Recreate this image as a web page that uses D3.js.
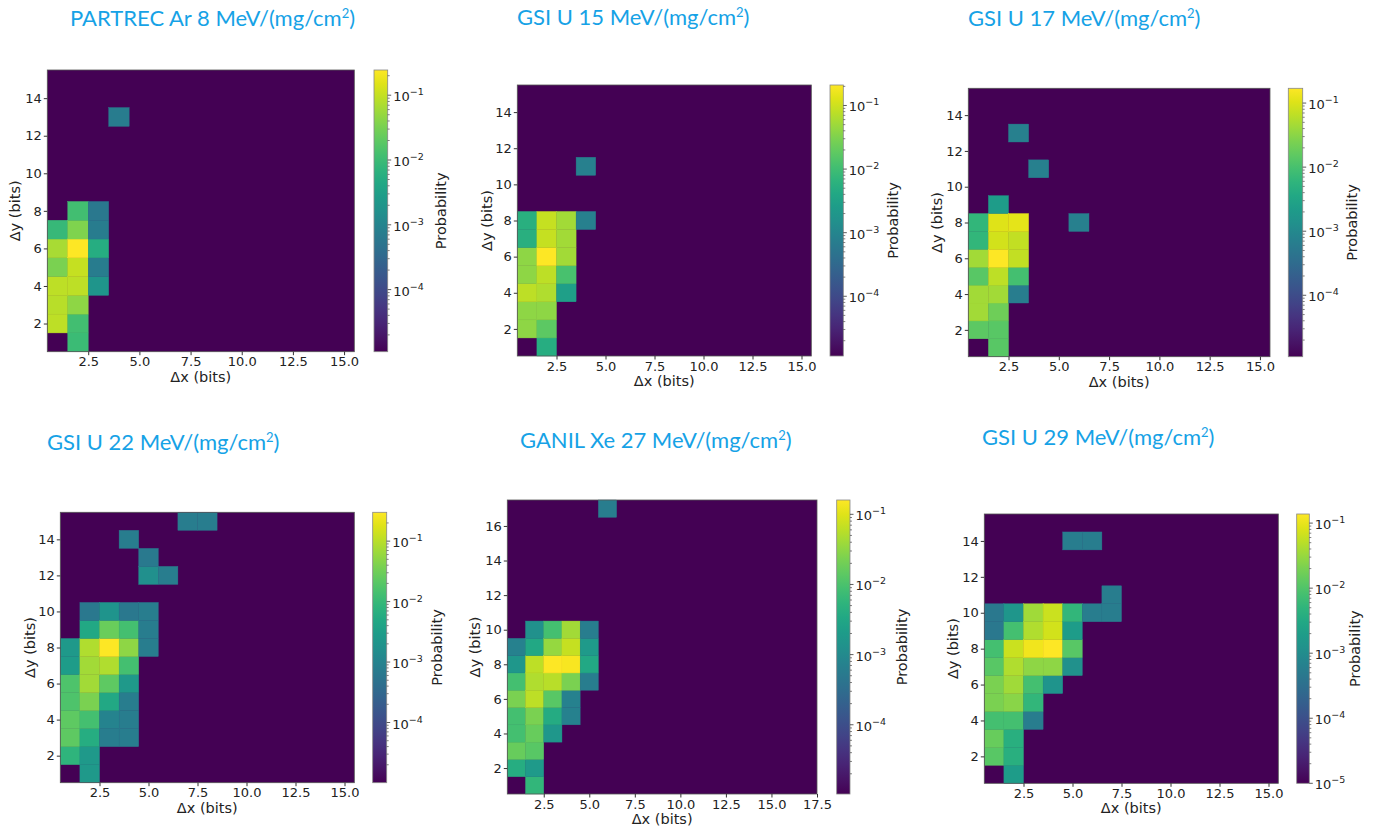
<!DOCTYPE html>
<html>
<head>
<meta charset="utf-8">
<script src="https://cdn.jsdelivr.net/npm/d3@7"></script>
<style>
  body { margin: 0; background: #fff; }
  text { font-family: "DejaVu Sans", sans-serif; fill: #222; }
  .title { font-family: Lato, "Open Sans", sans-serif; fill: #16a2e6; }
</style>
</head>
<body>
<div class="vis"></div>
<script>

//******************//
//   CHART DATA     //
//******************//

var titles = [
  "PARTREC Ar 8 MeV/(mg/cm",
  "GSI U 15 MeV/(mg/cm",
  "GSI U 17 MeV/(mg/cm",
  "GSI U 22 MeV/(mg/cm",
  "GANIL Xe 27 MeV/(mg/cm",
  "GSI U 29 MeV/(mg/cm"
];

// number of bins along each axis
var gridSize = [15, 15, 15, 15, 17, 15];

// colour limits of each panel (log scale)
var vmins = [1.1e-5, 1.15e-5, 1.1e-5, 1.01e-5, 1.03e-5, 1.0e-5];
var vmaxs = [0.245, 0.21, 0.17, 0.30, 0.16, 0.138];

var xTicks15 = [2.5, 5.0, 7.5, 10.0, 12.5, 15.0];
var xTicks17 = [2.5, 5.0, 7.5, 10.0, 12.5, 15.0, 17.5];
var yTicks15 = [2, 4, 6, 8, 10, 12, 14];
var yTicks17 = [2, 4, 6, 8, 10, 12, 14, 16];

// [dx, dy, probability], empty bins are zero
var cellsAr8 = [
  [1,2,0.09],[1,3,0.085],[1,4,0.09],[1,5,0.033],[1,6,0.066],[1,7,0.009],
  [2,1,0.010],[2,2,0.012],[2,3,0.045],[2,4,0.09],[2,5,0.10],[2,6,0.245],[2,7,0.035],[2,8,0.012],
  [3,4,0.002],[3,5,0.0007],[3,6,0.0055],[3,7,0.0007],[3,8,0.0006],
  [4,13,0.0007]
];

var cellsU15 = [
  [1,2,0.04],[1,3,0.04],[1,4,0.08],[1,5,0.04],[1,6,0.04],[1,7,0.0056],[1,8,0.0056],
  [2,1,0.0051],[2,2,0.018],[2,3,0.04],[2,4,0.065],[2,5,0.08],[2,6,0.21],[2,7,0.089],[2,8,0.089],
  [3,4,0.0028],[3,5,0.012],[3,6,0.053],[3,7,0.053],[3,8,0.053],
  [4,8,0.0008],[4,11,0.0008]
];

var cellsU17 = [
  [1,2,0.015],[1,3,0.044],[1,4,0.044],[1,5,0.014],[1,6,0.044],[1,7,0.0064],[1,8,0.0064],
  [2,1,0.014],[2,2,0.014],[2,3,0.020],[2,4,0.044],[2,5,0.065],[2,6,0.17],[2,7,0.087],[2,8,0.105],[2,9,0.0022],
  [3,4,0.00063],[3,5,0.0094],[3,6,0.071],[3,7,0.071],[3,8,0.115],[3,13,0.0007],
  [4,11,0.0007],[6,8,0.0007]
];

var cellsU22 = [
  [1,2,0.0081],[1,3,0.023],[1,4,0.023],[1,5,0.017],[1,6,0.017],[1,7,0.0029],[1,8,0.0026],
  [2,1,0.0026],[2,2,0.0026],[2,3,0.006],[2,4,0.014],[2,5,0.038],[2,6,0.071],[2,7,0.071],[2,8,0.087],[2,9,0.0049],[2,10,0.00062],
  [3,3,0.00075],[3,4,0.001],[3,5,0.0049],[3,6,0.023],[3,7,0.087],[3,8,0.30],[3,9,0.028],[3,10,0.0021],
  [4,3,0.00075],[4,4,0.00075],[4,5,0.00075],[4,6,0.0026],[4,7,0.014],[4,8,0.052],[4,9,0.014],[4,10,0.00062],[4,14,0.00075],
  [5,8,0.00075],[5,9,0.00075],[5,10,0.00075],[5,12,0.0017],[5,13,0.00065],
  [6,12,0.00075],[7,15,0.00075],[8,15,0.00075]
];

var cellsXe27 = [
  [1,2,0.0041],[1,3,0.017],[1,4,0.0089],[1,5,0.0089],[1,6,0.023],[1,7,0.0089],[1,8,0.0017],[1,9,0.0007],
  [2,1,0.006],[2,2,0.0019],[2,3,0.013],[2,4,0.017],[2,5,0.023],[2,6,0.062],[2,7,0.050],[2,8,0.062],[2,9,0.0034],[2,10,0.0013],
  [3,4,0.0017],[3,5,0.0037],[3,6,0.013],[3,7,0.056],[3,8,0.16],[3,9,0.035],[3,10,0.0089],
  [4,5,0.0007],[4,6,0.0007],[4,7,0.023],[4,8,0.148],[4,9,0.068],[4,10,0.042],
  [5,7,0.0006],[5,8,0.0034],[5,9,0.0019],[5,10,0.0006],
  [6,17,0.0006]
];

var cellsU29 = [
  [1,2,0.0115],[1,3,0.015],[1,4,0.0079],[1,5,0.020],[1,6,0.020],[1,7,0.0115],[1,8,0.0079],[1,9,0.00045],[1,10,0.00045],
  [2,1,0.0019],[2,2,0.0041],[2,3,0.0041],[2,4,0.0079],[2,5,0.025],[2,6,0.036],[2,7,0.044],[2,8,0.064],[2,9,0.0079],[2,10,0.0015],
  [3,4,0.00055],[3,5,0.0054],[3,6,0.0079],[3,7,0.027],[3,8,0.114],[3,9,0.044],[3,10,0.036],
  [4,6,0.0014],[4,7,0.027],[4,8,0.138],[4,9,0.071],[4,10,0.064],
  [5,7,0.0012],[5,8,0.0115],[5,9,0.0019],[5,10,0.0054],
  [5,14,0.00055],[6,14,0.00055],[6,10,0.00055],[7,10,0.00055],[7,11,0.00055]
];

var panelCells = [cellsAr8, cellsU15, cellsU17, cellsU22, cellsXe27, cellsU29];


//******************//
//   PAGE LAYOUT    //
//******************//

var svg = d3.select(".vis").append("svg")
  .attr("width", 1377)
  .attr("height", 831);

// plot box [left, top, right, bottom], colourbar x-range, label positions
var layout = [
  {plot: [47.3, 70, 354.3, 351.7],   cbar: [374, 387.7],     ylab: 15,    prob: 441,    title: [70, 18]},
  {plot: [517.3, 85, 811.3, 356],    cbar: [830, 843.3],     ylab: 486.7, prob: 893,    title: [517, 17]},
  {plot: [968.3, 88.3, 1270, 356.7], cbar: [1288.3, 1302.7], ylab: 936.7, prob: 1351.7, title: [968, 18]},
  {plot: [60.3, 512.3, 354.3, 782.7], cbar: [372.7, 386.7],  ylab: 30,    prob: 437.3,  title: [47, 442]},
  {plot: [507.3, 500, 817, 794],     cbar: [836.7, 850],     ylab: 475,   prob: 901.7,  title: [520, 440]},
  {plot: [984.3, 514, 1278.3, 783.3], cbar: [1296.7, 1309.3], ylab: 953.3, prob: 1355,  title: [982, 437]}
];

var defs = svg.append("defs");

var drawPanel = function(i) {
  var L = layout[i], n = gridSize[i];
  var g = svg.append("g").attr("class", "panel");

  var x = d3.scaleLinear().domain([0.5, n + 0.5]).range([L.plot[0], L.plot[2]]);
  var y = d3.scaleLinear().domain([0.5, n + 0.5]).range([L.plot[3], L.plot[1]]);
  var color = d3.scaleSequentialLog(d3.interpolateViridis)
    .domain([vmins[i], vmaxs[i]])
    .clamp(true);

  // title
  var t = g.append("text")
    .attr("class", "title")
    .attr("x", L.title[0])
    .attr("y", L.title[1] + 8)
    .style("font-size", "22px")
    .text(titles[i]);
  t.append("tspan").attr("dy", -8).style("font-size", "13px").text("2");
  t.append("tspan").attr("dy", 8).text(")");

  // background = empty bins
  g.append("rect")
    .attr("x", L.plot[0]).attr("y", L.plot[1])
    .attr("width", L.plot[2] - L.plot[0])
    .attr("height", L.plot[3] - L.plot[1])
    .attr("fill", color(vmins[i]));

  g.selectAll("rect.cell")
    .data(panelCells[i])
    .join("rect")
    .attr("class", "cell")
    .attr("x", function(d) { return x(d[0] - 0.5); })
    .attr("y", function(d) { return y(d[1] + 0.5); })
    .attr("width", function(d) { return x(d[0] + 0.5) - x(d[0] - 0.5); })
    .attr("height", function(d) { return y(d[1] - 0.5) - y(d[1] + 0.5); })
    .attr("fill", function(d) { return color(d[2]); })
    .attr("stroke", function(d) { return color(d[2]); })
    .attr("stroke-width", 0.4);

  // frame
  g.append("rect")
    .attr("x", L.plot[0]).attr("y", L.plot[1])
    .attr("width", L.plot[2] - L.plot[0])
    .attr("height", L.plot[3] - L.plot[1])
    .attr("fill", "none")
    .attr("stroke", "#555")
    .attr("stroke-width", 0.8);

  // axes
  var xAxis = d3.axisBottom(x)
    .tickValues(n === 17 ? xTicks17 : xTicks15)
    .tickFormat(d3.format(".1f"))
    .tickSize(3.5).tickPadding(2);
  var yAxis = d3.axisLeft(y)
    .tickValues(n === 17 ? yTicks17 : yTicks15)
    .tickSize(3.5).tickPadding(2);

  var gx = g.append("g").attr("transform", "translate(0," + L.plot[3] + ")").call(xAxis);
  var gy = g.append("g").attr("transform", "translate(" + L.plot[0] + ",0)").call(yAxis);
  [gx, gy].forEach(function(a) {
    a.select(".domain").remove();
    a.selectAll("text").style("font-size", "13px").style("fill", "#222");
    a.selectAll("line").attr("stroke", "#333");
  });

  g.append("text")
    .attr("x", (L.plot[0] + L.plot[2]) / 2)
    .attr("y", L.plot[3] + 25)
    .attr("dy", "0.35em")
    .attr("text-anchor", "middle")
    .style("font-size", "14.5px")
    .text("\u0394x (bits)");

  g.append("text")
    .attr("transform", "translate(" + L.ylab + "," + (L.plot[1] + L.plot[3]) / 2 + ") rotate(-90)")
    .attr("dy", "0.35em")
    .attr("text-anchor", "middle")
    .style("font-size", "14.5px")
    .text("\u0394y (bits)");

  // colourbar
  var grad = defs.append("linearGradient")
    .attr("id", "cb" + i)
    .attr("x1", 0).attr("y1", 1).attr("x2", 0).attr("y2", 0);
  d3.range(0, 1.0001, 0.05).forEach(function(s) {
    grad.append("stop").attr("offset", s).attr("stop-color", d3.interpolateViridis(s));
  });

  var cbScale = d3.scaleLog().domain([vmins[i], vmaxs[i]]).range([L.plot[3], L.plot[1]]);
  var cw = L.cbar[1] - L.cbar[0];

  g.append("rect")
    .attr("x", L.cbar[0]).attr("y", L.plot[1])
    .attr("width", cw).attr("height", L.plot[3] - L.plot[1])
    .attr("fill", "url(#cb" + i + ")")
    .attr("stroke", "#888").attr("stroke-width", 0.8);

  var majors = [], minors = [];
  for (var k = -6; k <= 0; k++) {
    for (var m = 1; m <= 9; m++) {
      var v = m * Math.pow(10, k);
      if (v < vmins[i] * 0.999 || v > vmaxs[i]) continue;
      if (m === 1) majors.push(k); else minors.push(v);
    }
  }

  g.selectAll("line.minor").data(minors).join("line")
    .attr("x1", L.cbar[1]).attr("x2", L.cbar[1] + 2)
    .attr("y1", function(d) { return cbScale(d); })
    .attr("y2", function(d) { return cbScale(d); })
    .attr("stroke", "#333").attr("stroke-width", 0.6);

  g.selectAll("line.major").data(majors).join("line")
    .attr("x1", L.cbar[1]).attr("x2", L.cbar[1] + 3.5)
    .attr("y1", function(d) { return cbScale(Math.pow(10, d)); })
    .attr("y2", function(d) { return cbScale(Math.pow(10, d)); })
    .attr("stroke", "#333").attr("stroke-width", 0.8);

  var lab = g.selectAll("text.cbl").data(majors).join("text")
    .attr("class", "cbl")
    .attr("x", L.cbar[1] + 5.5)
    .attr("y", function(d) { return cbScale(Math.pow(10, d)) + 6; })
    .style("font-size", "13px")
    .text("10");
  lab.append("tspan")
    .attr("dy", -6)
    .style("font-size", "9.5px")
    .text(function(d) { return "\u2212" + (-d); });

  g.append("text")
    .attr("transform", "translate(" + L.prob + "," + (L.plot[1] + L.plot[3]) / 2 + ") rotate(-90)")
    .attr("dy", "0.35em")
    .attr("text-anchor", "middle")
    .style("font-size", "14.5px")
    .text("Probability");
};

for (var i = 0; i < titles.length; i++) {
  drawPanel(i);
}

</script>
</body>
</html>
